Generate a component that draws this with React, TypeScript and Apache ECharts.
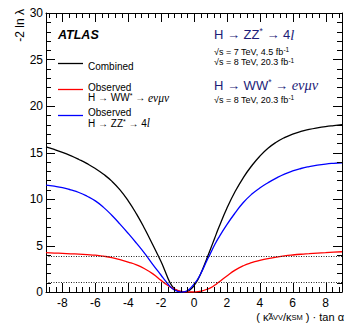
import React, { useEffect, useRef } from 'react';
import * as echarts from 'echarts';

// Scan points along (kappa~_AVV / kappa_SM) * tan(alpha)
const xValues = [
  -9, -8.5, -8, -7.5, -7, -6.5, -6, -5.5, -5, -4.5, -4, -3.5, -3, -2.5, -2, -1.75, -1.5, -1.25, -1,
  -0.75, -0.5, -0.25, 0, 0.25, 0.5, 0.75, 1, 1.25, 1.5, 2, 2.5, 3, 3.5, 4, 4.5, 5, 5.5, 6, 6.5, 7,
  7.5, 8, 8.5, 9,
];

// -2 ln lambda, combined fit
const combined = [
  15.6, 15.33, 15.02, 14.66, 14.25, 13.8, 13.28, 12.66, 11.92, 10.98, 9.8, 8.4, 6.8, 5.05, 3.25,
  2.2, 1.15, 0.45, 0.13, 0.01, 0.03, 0.22, 0.68, 1.38, 2.35, 3.45, 4.6, 5.75, 6.9, 9.0, 10.8, 12.3,
  13.55, 14.6, 15.45, 16.1, 16.6, 16.98, 17.27, 17.48, 17.65, 17.79, 17.9, 18.0,
];

// -2 ln lambda, observed H -> WW* -> e nu mu nu
const observedWW = [
  4.23, 4.19, 4.15, 4.11, 4.07, 4.02, 3.96, 3.85, 3.7, 3.48, 3.22, 2.92, 2.5, 1.95, 1.25, 0.9, 0.6,
  0.36, 0.18, 0.07, 0.02, 0, 0, 0.03, 0.13, 0.27, 0.45, 0.72, 1.05, 1.72, 2.35, 2.82, 3.15, 3.4,
  3.6, 3.75, 3.88, 3.98, 4.06, 4.12, 4.18, 4.23, 4.28, 4.33,
];

// -2 ln lambda, observed H -> ZZ* -> 4l
const observedZZ = [
  11.5, 11.38, 11.22, 10.98, 10.7, 10.3, 9.8, 9.1, 8.25, 7.3, 6.3, 5.25, 4.15, 2.95, 1.8, 1.22,
  0.68, 0.28, 0.07, 0, 0.07, 0.35, 0.85, 1.45, 2.3, 3.25, 4.15, 5.05, 5.85, 7.25, 8.5, 9.62, 10.5,
  11.18, 11.75, 12.25, 12.68, 13.02, 13.28, 13.48, 13.64, 13.76, 13.84, 13.9,
];

// 68% and 95% CL reference levels
const clLevels = [1, 3.84];

// Axis tick positions
const xLabelValues = [-8, -6, -4, -2, 0, 2, 4, 6, 8];
const yLabelValues = [0, 5, 10, 15, 20, 25, 30];
const xMinorStep = 0.4;
const yMinorStep = 1;

const SANS = '"Liberation Sans", Arial, Helvetica, sans-serif';
const SERIF = '"Liberation Serif", "Times New Roman", serif';
const NAVY = '#1c1c78';
const MAJOR_LEN = 9;
const MINOR_LEN = 5;

const pairs = (ys: number[]) => xValues.map((x, i) => [x, ys[i]]);

function buildTicks(lo: number, hi: number, step: number, majors: number[]) {
  const out: number[][] = [];
  const n0 = Math.ceil(lo / step - 1e-9);
  const n1 = Math.floor(hi / step + 1e-9);
  for (let k = n0; k <= n1; k++) {
    const v = Math.round(k * step * 1000) / 1000;
    if (v <= lo || v >= hi) continue;
    const isMajor = majors.some((m) => Math.abs(m - v) < 1e-6);
    out.push([v, isMajor ? MAJOR_LEN : MINOR_LEN]);
  }
  return out;
}

function App() {
  const ref = useRef<HTMLDivElement>(null);

  useEffect(() => {
    if (!ref.current) return;
    const chart = echarts.init(ref.current, undefined, { renderer: 'svg' });

    const X_MIN = -9;
    const X_MAX = 9;
    const Y_MIN = 0;
    const Y_MAX = 30;

    const axisLine = { show: true, onZero: false, lineStyle: { color: '#000', width: 1 } };
    const noTicks = { show: false };

    const lineSeries = (name: string, ys: number[], color: string, extra: any = {}) => ({
      name,
      type: 'line',
      data: pairs(ys),
      symbol: 'none',
      showSymbol: false,
      smooth: 0.5,
      clip: true,
      z: 3,
      lineStyle: { color, width: 1.3 },
      itemStyle: { color },
      ...extra,
    });

    const xTicks = buildTicks(X_MIN, X_MAX, xMinorStep, xLabelValues).map(([v, len]) => [v, Y_MIN, len]);
    const yTicks = buildTicks(Y_MIN, Y_MAX, yMinorStep, yLabelValues).map(([v, len]) => [X_MIN, v, len]);

    const tickLine = (x1: number, y1: number, x2: number, y2: number) => ({
      type: 'line',
      shape: { x1, y1, x2, y2 },
      style: { stroke: '#000', lineWidth: 1 },
    });

    const rich = {
      m: { fontSize: 13, fontFamily: SANS, fill: NAVY, lineHeight: 16 },
      i: { fontSize: 14.5, fontFamily: SERIF, fontStyle: 'italic', fill: NAVY, lineHeight: 16 },
      u: { fontSize: 8.5, fontFamily: SANS, fill: NAVY, verticalAlign: 'top', lineHeight: 16 },
    };
    const smallRich = {
      s: { fontSize: 9, fontFamily: SANS, fill: '#000', lineHeight: 11 },
      u: { fontSize: 6.5, fontFamily: SANS, fill: '#000', verticalAlign: 'top', lineHeight: 11 },
    };
    const legRich = {
      t: { fontSize: 10, fontFamily: SANS, fill: '#000', lineHeight: 11 },
      i: { fontSize: 11.5, fontFamily: SERIF, fontStyle: 'italic', fill: '#000', lineHeight: 11 },
      u: { fontSize: 7, fontFamily: SANS, fill: '#000', verticalAlign: 'top', lineHeight: 11 },
    };
    const axRich = {
      t: { fontSize: 11, fontFamily: SANS, fill: '#000', lineHeight: 10 },
      d: { fontSize: 7.5, fontFamily: SANS, fill: '#000', verticalAlign: 'bottom', lineHeight: 6 },
    };

    const text = (x: number, y: number, str: string, r: any, extra: any = {}) => ({
      type: 'text',
      x,
      y,
      silent: true,
      style: {
        text: str,
        rich: r,
        align: 'left',
        verticalAlign: 'middle',
        textAlign: 'left',
        textVerticalAlign: 'middle',
        ...extra,
      },
    });
    const legendLine = (y: number, color: string) => ({
      type: 'line',
      silent: true,
      shape: { x1: 58, y1: y, x2: 83, y2: y },
      style: { stroke: color, lineWidth: 1.3 },
    });

    chart.setOption({
      animation: false,
      backgroundColor: '#fff',
      grid: { left: 46, right: 3, top: 13, bottom: 31, containLabel: false },
      xAxis: [
        {
          type: 'value',
          min: X_MIN,
          max: X_MAX,
          position: 'bottom',
          axisLine,
          axisTick: noTicks,
          minorTick: noTicks,
          splitLine: { show: false },
          axisLabel: {
            show: true,
            customValues: xLabelValues,
            margin: 5,
            fontSize: 12,
            fontFamily: SANS,
            color: '#000',
          },
        },
        {
          type: 'value',
          min: X_MIN,
          max: X_MAX,
          position: 'top',
          axisLine,
          axisTick: noTicks,
          minorTick: noTicks,
          splitLine: { show: false },
          axisLabel: { show: false },
        },
      ],
      yAxis: [
        {
          type: 'value',
          min: Y_MIN,
          max: Y_MAX,
          interval: 5,
          position: 'left',
          axisLine,
          axisTick: noTicks,
          minorTick: noTicks,
          splitLine: { show: false },
          axisLabel: {
            show: true,
            customValues: yLabelValues,
            margin: 3,
            fontSize: 12,
            fontFamily: SANS,
            color: '#000',
          },
        },
        {
          type: 'value',
          min: Y_MIN,
          max: Y_MAX,
          interval: 5,
          position: 'right',
          axisLine,
          axisTick: noTicks,
          minorTick: noTicks,
          splitLine: { show: false },
          axisLabel: { show: false },
        },
      ],
      series: [
        // inward ticks on bottom and top frame edges
        {
          type: 'custom',
          silent: true,
          clip: false,
          z: 5,
          data: xTicks,
          renderItem: (_p: any, api: any) => {
            const v = api.value(0);
            const len = api.value(2);
            const b = api.coord([v, Y_MIN]);
            const t = api.coord([v, Y_MAX]);
            const x = Math.round(b[0]) + 0.5;
            return {
              type: 'group',
              children: [tickLine(x, b[1], x, b[1] - len), tickLine(x, t[1], x, t[1] + len)],
            };
          },
        },
        // inward ticks on left and right frame edges
        {
          type: 'custom',
          silent: true,
          clip: false,
          z: 5,
          data: yTicks,
          renderItem: (_p: any, api: any) => {
            const v = api.value(1);
            const len = api.value(2);
            const l = api.coord([X_MIN, v]);
            const r = api.coord([X_MAX, v]);
            const y = Math.round(l[1]) + 0.5;
            return {
              type: 'group',
              children: [tickLine(l[0], y, l[0] + len, y), tickLine(r[0], y, r[0] - len, y)],
            };
          },
        },
        lineSeries('Combined', combined, '#000', {
          markLine: {
            silent: true,
            symbol: 'none',
            label: { show: false },
            lineStyle: { color: '#222', type: [1, 1.5], width: 1 },
            data: clLevels.map((v) => ({ yAxis: v })),
          },
        }),
        lineSeries('Observed H → WW* → eνμν', observedWW, '#ff0000'),
        lineSeries('Observed H → ZZ* → 4l', observedZZ, '#0000ff'),
      ],
      graphic: [
        // axis titles
        {
          type: 'text',
          x: 19.5,
          y: 9,
          rotation: Math.PI / 2,
          silent: true,
          style: {
            text: '-2 ln λ',
            fontSize: 12,
            fontFamily: SANS,
            fill: '#000',
            align: 'right',
            verticalAlign: 'middle',
            textAlign: 'right',
            textVerticalAlign: 'middle',
          },
        },
        text(344, 316.8, '{t|( κ̃}{d|AVV}{t|/κ}{d|SM}{t| ) · tan α}', axRich, {
          align: 'right',
          textAlign: 'right',
        }),
        // experiment label
        {
          type: 'text',
          x: 58,
          y: 35,
          silent: true,
          style: {
            text: 'ATLAS',
            fontSize: 12.5,
            fontWeight: 'bold',
            fontStyle: 'italic',
            fontFamily: SANS,
            fill: '#000',
            align: 'left',
            verticalAlign: 'middle',
            textAlign: 'left',
            textVerticalAlign: 'middle',
          },
        },
        // legend
        legendLine(63.5, '#000'),
        legendLine(89.5, '#ff0000'),
        legendLine(115.5, '#0000ff'),
        text(88, 66, '{t|Combined}', legRich),
        text(88, 87.5, '{t|Observed}', legRich),
        text(88, 97.5, '{t|H → WW}{u|*}{t| → }{i|eνμν}', legRich),
        text(88, 112.5, '{t|Observed}', legRich),
        text(88, 123, '{t|H → ZZ}{u|*}{t| → 4}{i|l}', legRich),
        // channel labels
        text(214, 34.5, '{m|H → ZZ}{u|*}{m| → 4}{i|l}', rich),
        text(214, 51.5, '{s|√s = 7 TeV, 4.5 fb}{u|-1}', smallRich),
        text(214, 62, '{s|√s = 8 TeV, 20.3 fb}{u|-1}', smallRich),
        text(214, 85, '{m|H → WW}{u|*}{m| → }{i|eνμν}', rich),
        text(214, 99.5, '{s|√s = 8 TeV, 20.3 fb}{u|-1}', smallRich),
      ],
    });

    return () => chart.dispose();
  }, []);

  return (
    <div
      ref={ref}
      style={{ position: 'absolute', left: 0, top: 0, width: 345, height: 323, background: '#fff' }}
    />
  );
}

export default App;
